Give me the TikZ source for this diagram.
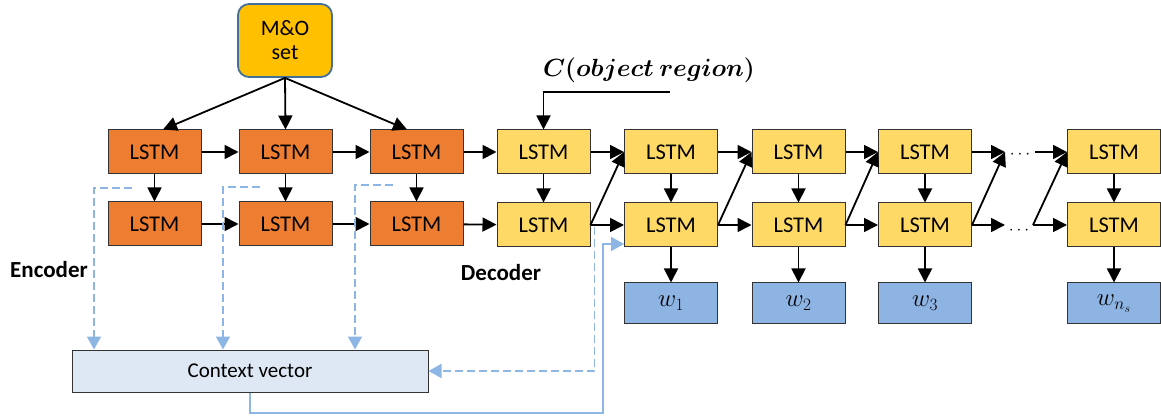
\documentclass[tikz,border=0pt]{standalone}
\usepackage{fontspec}
\setmainfont{Carlito}
\usepackage{bm}
\usetikzlibrary{arrows.meta}
\definecolor{encc}{HTML}{ED7D31}
\definecolor{decc}{HTML}{FFD966}
\definecolor{outc}{HTML}{8EB4E3}
\definecolor{ctxc}{HTML}{DEE8F4}
\definecolor{moc}{HTML}{FFC000}
\definecolor{mob}{HTML}{41719C}
\definecolor{bl}{HTML}{8DB6E4}
\begin{document}
\begin{tikzpicture}[x=1pt,y=-1pt,
  lstm/.style={draw=black!80,line width=1pt,minimum width=93pt,minimum height=44pt,inner sep=0pt,font=\fontsize{22.5}{26}\selectfont},
  encbox/.style={lstm,fill=encc},
  decbox/.style={lstm,fill=decc},
  outbox/.style={draw=black!80,line width=1pt,fill=outc,minimum width=93pt,minimum height=41pt,inner sep=0pt,font=\fontsize{24}{26}\selectfont},
  arr/.style={line width=1.8pt,-{Triangle[length=14pt,width=14pt]}},
  dasharr/.style={bl,line width=1.8pt,dash pattern=on 8pt off 4pt,-{Triangle[length=13pt,width=14pt]}},
  bluearr/.style={bl,line width=1.8pt,-{Triangle[length=13pt,width=14pt]}},
  lbl/.style={font=\bfseries\fontsize{23}{26}\selectfont},
  dotsn/.style={font=\fontsize{17}{20}\selectfont,inner sep=0pt}
]
\useasboundingbox (0,0) rectangle (1161,419);
% M&O
\node[draw=mob,line width=1.8pt,fill=moc,rounded corners=11pt,minimum width=94pt,minimum height=73pt,align=center,inner sep=0pt,font=\fontsize{22}{24}\selectfont] (mo) at (285,40.5) {M\&O\\set};
% encoder
\node[encbox] (e11) at (154.5,152) {LSTM};
\node[encbox] (e12) at (285.5,152) {LSTM};
\node[encbox] (e13) at (416.5,152) {LSTM};
\node[encbox] (e21) at (154.5,224) {LSTM};
\node[encbox] (e22) at (285.5,224) {LSTM};
\node[encbox] (e23) at (416.5,224) {LSTM};
% decoder
\node[decbox] (d11) at (543.5,152) {LSTM};
\node[decbox] (d12) at (671,152) {LSTM};
\node[decbox] (d13) at (798.5,152) {LSTM};
\node[decbox] (d14) at (925,152) {LSTM};
\node[decbox] (d15) at (1114,152) {LSTM};
\node[decbox] (d21) at (543.5,225) {LSTM};
\node[decbox] (d22) at (671,225) {LSTM};
\node[decbox] (d23) at (798.5,225) {LSTM};
\node[decbox] (d24) at (925,225) {LSTM};
\node[decbox] (d25) at (1114,225) {LSTM};
% outputs
\node[outbox] (w1) at (671,303.5) {$w_1$};
\node[outbox] (w2) at (798.5,303.5) {$w_2$};
\node[outbox] (w3) at (925,303.5) {$w_3$};
\node[outbox] (w4) at (1114,303.5) {$w_{n_s}$};
% context
\node[draw=black!80,line width=1pt,fill=ctxc,minimum width=356pt,minimum height=42pt,inner sep=0pt,font=\fontsize{21}{24}\selectfont] (cv) at (250,371) {Context vector};
% labels
\node[lbl] (enc) at (49,270) {Encoder};
\node[lbl] (dec) at (501,273) {Decoder};
\node[font=\fontsize{25}{28}\selectfont] (cl) at (649,70) {$\bm{C(object\ region)}$};
% M&O arrows
\draw[arr] (mo.south) -- ([xshift=8.5pt]e11.north);
\draw[arr] (mo.south) -- (e12.north);
\draw[arr] (mo.south) -- ([xshift=-9.5pt]e13.north);
% encoder arrows
\draw[arr] (e11) -- (e12);
\draw[arr] (e12) -- (e13);
\draw[arr] (e21) -- (e22);
\draw[arr] (e22) -- (e23);
\draw[arr] (e11) -- (e21);
\draw[arr] (e12) -- (e22);
\draw[arr] (e13) -- (e23);
\draw[arr] (e13) -- (d11);
\draw[arr] (e23) -- (d21);
% C input
\coordinate (cs) at (670,92);
\draw[arr] (cs) -| (d11.north);
% decoder horizontal
\draw[arr] (d11) -- (d12);
\draw[arr] (d12) -- (d13);
\draw[arr] (d13) -- (d14);
\draw[arr] (d21) -- (d22);
\draw[arr] (d22) -- (d23);
\draw[arr] (d23) -- (d24);
% diagonals
\draw[arr] (d21.east) -- (d12.west);
\draw[arr] (d22.east) -- (d13.west);
\draw[arr] (d23.east) -- (d14.west);
% dots section
\coordinate (a1) at (1005,152);
\coordinate (a2) at (1005,225);
\coordinate (b1) at (1035,152);
\coordinate (b2) at (1033,225);
\draw[arr] (d14.east) -- (a1);
\draw[arr] (d24.east) -- (a2);
\draw[arr] (d24.east) -- (a1);
\node[dotsn] (dt1) at (1020,154.5) {$\cdots$};
\node[dotsn] (dt2) at (1019,230.5) {$\cdots$};
\draw[arr] (b1) -- (d15.west);
\draw[arr] (b2) -- (d25.west);
\draw[arr] (b2) -- (d15.west);
% verticals
\draw[arr] (d11) -- (d21);
\draw[arr] (d12) -- (d22);
\draw[arr] (d13) -- (d23);
\draw[arr] (d14) -- (d24);
\draw[arr] (d15) -- (d25);
\draw[arr] (d22) -- (w1);
\draw[arr] (d23) -- (w2);
\draw[arr] (d24) -- (w3);
\draw[arr] (d25) -- (w4);
% dashed attention lines
\coordinate (s1) at (132,188); \coordinate (t1) at (94,188);
\coordinate (s2) at (260,187); \coordinate (t2) at (223,187);
\coordinate (s3) at (393,185); \coordinate (t3) at (355,185);
\draw[dasharr] (s1) -- (t1) -- (t1 |- cv.north);
\draw[dasharr] (s2) -- (t2) -- (t2 |- cv.north);
\draw[dasharr] (s3) -- (t3) -- (t3 |- cv.north);
\draw[dasharr] ([xshift=4pt,yshift=-2pt]d21.east) |- (cv.east);
% solid blue
\coordinate (q1) at (603,413); \coordinate (q2) at (603,244);
\draw[bluearr] (cv.south) |- (q1) -- (q2) -- (q2 -| d22.west);
\end{tikzpicture}
\end{document}
